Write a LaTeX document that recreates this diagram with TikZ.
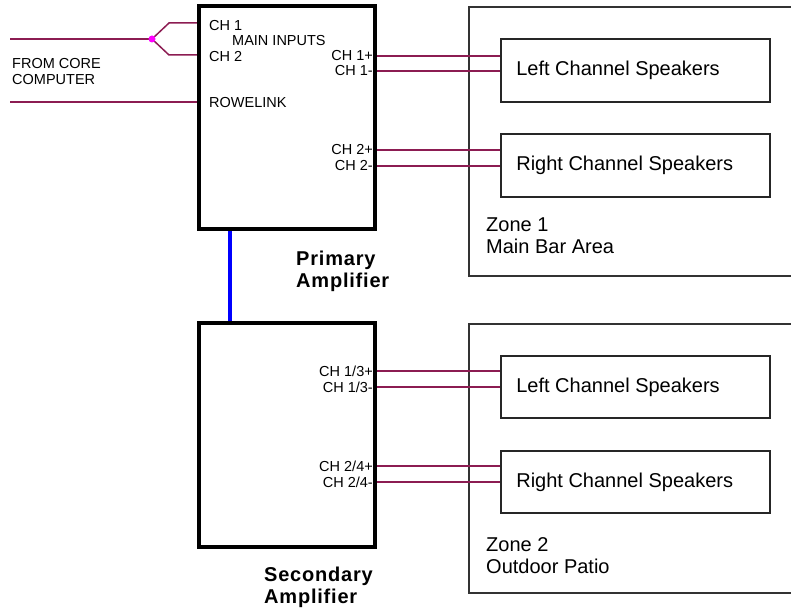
\documentclass[tikz,border=0pt]{standalone}
\usepackage{fontspec}
\setmainfont{Liberation Sans}
\usepackage{xcolor}
\usetikzlibrary{positioning,calc}
\definecolor{wirecol}{RGB}{140,28,82}
\definecolor{dotcol}{RGB}{255,0,255}
\newcommand{\bigtxt}{\fontsize{20}{22}\selectfont}
\newcommand{\smalltxt}{\fontsize{14.5}{16}\selectfont}
\tikzset{
  amp/.style={draw=black, line width=4.5pt, minimum width=176pt, inner sep=0pt},
  zone/.style={draw=black!80, line width=1.3pt, minimum width=340pt, minimum height=269pt, inner sep=0pt},
  spk/.style={draw=black!85, line width=1.8pt, minimum width=269pt, inner sep=0pt},
  spktxt/.style={font=\bigtxt, anchor=west, inner sep=0pt},
  port/.style={font=\smalltxt, inner sep=0pt},
  wire/.style={draw=wirecol, line width=1.5pt},
  link/.style={draw=blue, line width=4pt},
  ampname/.style={font=\bigtxt\bfseries\addfontfeatures{LetterSpace=4}, align=left, anchor=north west, inner sep=0pt},
  note/.style={font=\bigtxt, align=left, anchor=north west, inner sep=0pt}}

\begin{document}
\begin{tikzpicture}[x=1pt,y=-1pt]
  \useasboundingbox (0,0) rectangle (791,607);
  \begin{scope}
  \clip (0,0) rectangle (791,607);
  % zones and speaker boxes
  \node[zone] (zone1) at (639,141.5) {};
  \node[zone] (zone2) at (639,458.5) {};
  \end{scope}
  \node[spk, minimum height=63pt] (lspk1) at (635.5,70.5) {};
  \node[spk, minimum height=63pt] (rspk1) at (635.5,165.5) {};
  \node[spk, minimum height=62pt] (lspk2) at (635.5,387) {};
  \node[spk, minimum height=62pt] (rspk2) at (635.5,482) {};
  \foreach \s/\t in {lspk1/Left, rspk1/Right, lspk2/Left, rspk2/Right}
    \node[spktxt] (\s txt) at ([xshift=16pt]\s.west) {\t\ Channel Speakers};
  \node[note] (zone1txt) at (486,218) {Zone 1\\Main Bar Area};
  \node[note] (zone2txt) at (486,537) {Zone 2\\Outdoor Patio};

  % amplifiers
  \node[amp, minimum height=223pt] (prim) at (287,117.5) {};
  \node[amp, minimum height=224pt] (sec) at (287,435) {};
  \node[ampname] (primname) at (296,251) {Primary\\Amplifier};
  \node[ampname] (secname) at (264,567) {Secondary\\Amplifier};
  \draw[link] ([xshift=33pt]prim.south west) -- ([xshift=33pt]sec.north west);

  % outputs
  \foreach \n/\t/\y/\s in {o1p/CH 1+/56/lspk1, o1m/CH 1-/71/lspk1,
                           o2p/CH 2+/150/rspk1, o2m/CH 2-/166/rspk1,
                           o3p/CH 1\slash 3+/371/lspk2, o3m/CH 1\slash 3-/387/lspk2,
                           o4p/CH 2\slash 4+/466/rspk2, o4m/CH 2\slash 4-/482/rspk2} {
    \node[port, anchor=east] (\n) at (373,\y) {\t};
    \draw[wire] (prim.east |- \n) -- (\s.west |- \n);
  }

  % inputs
  \node[port, anchor=west] (in1) at (209,26) {CH 1};
  \node[port, anchor=west] (in2) at (209,57) {CH 2};
  \node[port, anchor=west] (mainin) at (232,41) {MAIN INPUTS};
  \node[port, anchor=west] (rowe) at (209,103) {ROWELINK};
  \node[port, align=left, anchor=north west] (core) at (12,58) {FROM CORE\\COMPUTER};
  \coordinate (src) at (10,39);
  \coordinate (rsrc) at (10,102);
  \coordinate (jn) at (152,39);
  \draw[wire] (src) -- (jn);
  \draw[wire] (jn) -- ++(17,-16) -- (prim.west |- 0,23);
  \draw[wire] (jn) -- ++(17,16) -- (prim.west |- 0,55);
  \draw[wire] (rsrc) -- (prim.west |- rsrc);
  \fill[dotcol] (jn) circle (3.5pt);
\end{tikzpicture}
\end{document}
